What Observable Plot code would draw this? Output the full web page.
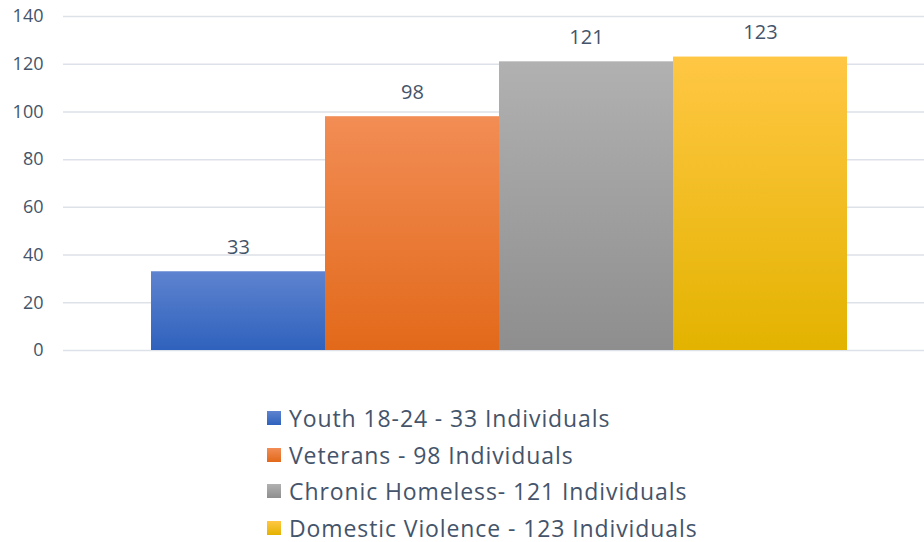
<!DOCTYPE html>
<html>
<head>
<meta charset="utf-8">
<script src="https://cdn.jsdelivr.net/npm/d3@7"></script>
<script src="https://cdn.jsdelivr.net/npm/@observablehq/plot@0.6"></script>
<style>
  html, body { margin: 0; padding: 0; background: #fff; overflow: hidden; width: 924px; height: 542px; }
  #chart svg { display: block; max-width: none !important; }
  .legend { position: absolute; left: 267px; top: 400px; font-family: "Open Sans", sans-serif; font-size: 23px; letter-spacing: 0.9px; color: #44546a; }
  .legend .item { display: flex; align-items: center; height: 36.5px; }
  .legend .sw { width: 14px; height: 14px; margin-right: 8px; }
</style>
</head>
<body>
<div id="chart"></div>
<div class="legend" id="legend"></div>
<script>
const categories = ["Youth 18-24", "Veterans", "Chronic Homeless", "Domestic Violence"];
const values = [33, 98, 121, 123];
const legendLabels = ["Youth 18-24 - 33 Individuals", "Veterans - 98 Individuals", "Chronic Homeless- 121 Individuals", "Domestic Violence - 123 Individuals"];
const yTicks = [0, 20, 40, 60, 80, 100, 120, 140];
const gradTop = ["#5e83cf", "#f28d55", "#b1b1b1", "#ffc744"];
const gradBottom = ["#2f62bd", "#e2691a", "#8e8e8e", "#e3b300"];

const data = categories.map((c, i) => ({category: c, value: values[i], idx: i}));

const chart = Plot.plot({
  width: 934,
  height: 372,
  marginLeft: 63,
  marginRight: 0,
  marginTop: 16,
  marginBottom: 22,
  style: {fontFamily: "'Open Sans', sans-serif", color: "#44546a", background: "#fff", maxWidth: "none"},
  x: {domain: categories, paddingInner: 0, paddingOuter: 0.5, axis: null},
  y: {domain: [0, 140], ticks: yTicks, label: null},
  marks: [
    Plot.ruleY(yTicks, {stroke: "#dde2e9", strokeWidth: 1.5}),
    Plot.barY(data, {x: "category", y: "value", fill: d => `url(#grad${d.idx})`}),
    Plot.text(data, {x: "category", y: "value", text: d => String(d.value), dy: -24, fontSize: 20, fill: "#44546a"}),
    Plot.axisY({ticks: yTicks, tickSize: 0, tickPadding: 20, fontSize: 18, fill: "#44546a", label: null})
  ]
});

const ns = "http://www.w3.org/2000/svg";
const defs = document.createElementNS(ns, "defs");
gradTop.forEach((top, i) => {
  const g = document.createElementNS(ns, "linearGradient");
  g.setAttribute("id", "grad" + i);
  g.setAttribute("x1", "0"); g.setAttribute("y1", "0");
  g.setAttribute("x2", "0"); g.setAttribute("y2", "1");
  const s1 = document.createElementNS(ns, "stop");
  s1.setAttribute("offset", "0"); s1.setAttribute("stop-color", top);
  const s2 = document.createElementNS(ns, "stop");
  s2.setAttribute("offset", "1"); s2.setAttribute("stop-color", gradBottom[i]);
  g.appendChild(s1); g.appendChild(s2);
  defs.appendChild(g);
});
chart.insertBefore(defs, chart.firstChild);
document.getElementById("chart").appendChild(chart);

const legend = document.getElementById("legend");
legendLabels.forEach((lab, i) => {
  const item = document.createElement("div");
  item.className = "item";
  const sw = document.createElement("div");
  sw.className = "sw";
  sw.style.background = `linear-gradient(${gradTop[i]}, ${gradBottom[i]})`;
  const t = document.createElement("span");
  t.textContent = lab;
  item.appendChild(sw); item.appendChild(t);
  legend.appendChild(item);
});
</script>
</body>
</html>
